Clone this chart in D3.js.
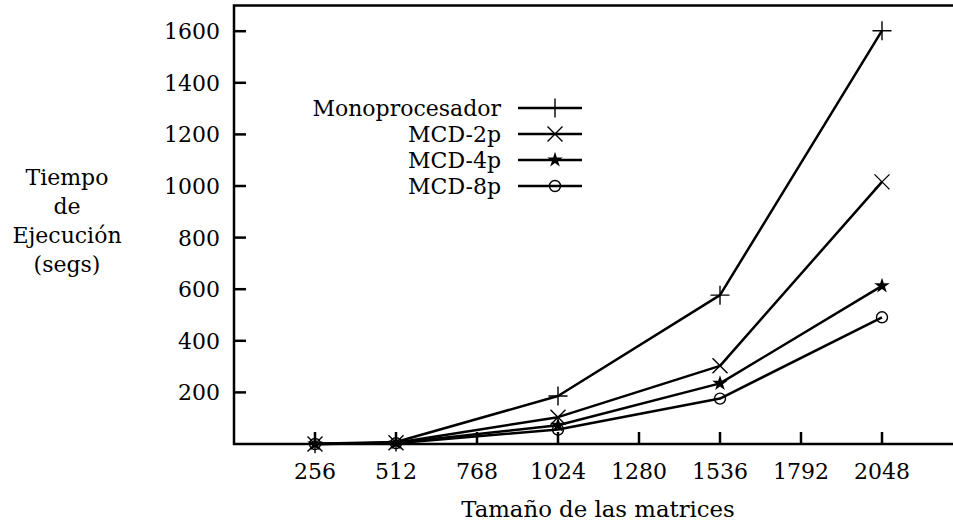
<!DOCTYPE html>
<html>
<head>
<meta charset="utf-8">
<script src="https://cdn.jsdelivr.net/npm/d3@7"></script>
<style>
  body { margin: 0; background: #fff; }
</style>
</head>
<body>
<svg width="953" height="525" style="font-family: 'DejaVu Serif', serif;"></svg>
<script>
// data
const sizes = [256, 512, 1024, 1536, 2048];
const mono = [1, 8, 186, 577, 1602];
const mcd2 = [0, 5, 104, 303, 1016];
const mcd4 = [0, 4, 73, 235, 613];
const mcd8 = [0, 3, 56, 176, 491];
const seriesNames = ['Monoprocesador', 'MCD-2p', 'MCD-4p', 'MCD-8p'];
const xTicks = [256, 512, 768, 1024, 1280, 1536, 1792, 2048];
const yTicks = [200, 400, 600, 800, 1000, 1200, 1400, 1600];

const svg = d3.select('svg');
const fontSize = 22;

const x = d3.scaleLinear().domain([0, 2304]).range([234, 963]);
const y = d3.scaleLinear().domain([0, 1700]).range([444, 5.4]);

const series = [mono, mcd2, mcd4, mcd8].map((vals, i) => ({
    name: seriesNames[i],
    points: sizes.map((s, j) => [s, vals[j]])
}));

// marker drawers
const markers = [
    // plus
    (g, cx, cy) => g.append('path')
        .attr('d', `M${cx - 9.5},${cy}H${cx + 9.5}M${cx},${cy - 9.5}V${cy + 9.5}`)
        .attr('stroke', '#000').attr('stroke-width', 1.4).attr('fill', 'none'),
    // cross
    (g, cx, cy) => g.append('path')
        .attr('d', `M${cx - 7.5},${cy - 7.5}L${cx + 7.5},${cy + 7.5}M${cx - 7.5},${cy + 7.5}L${cx + 7.5},${cy - 7.5}`)
        .attr('stroke', '#000').attr('stroke-width', 1.4).attr('fill', 'none'),
    // star
    (g, cx, cy) => g.append('path')
        .attr('d', d3.symbol().type(d3.symbolStar).size(75)())
        .attr('transform', `translate(${cx},${cy})`)
        .attr('fill', '#000'),
    // circle
    (g, cx, cy) => g.append('circle')
        .attr('cx', cx).attr('cy', cy).attr('r', 5.5)
        .attr('stroke', '#000').attr('stroke-width', 1.4).attr('fill', 'none')
];

// frame
svg.append('path')
    .attr('d', `M${x(2304)},${y(1700)}H${x(0)}V${y(0)}H${x(2304)}`)
    .attr('fill', 'none')
    .attr('stroke', '#000')
    .attr('stroke-width', 2.5);

// y ticks
svg.append('g').selectAll('line')
    .data(yTicks)
    .join('line')
        .attr('x1', x(0))
        .attr('x2', x(0) + 12)
        .attr('y1', d => y(d))
        .attr('y2', d => y(d))
        .attr('stroke', '#000')
        .attr('stroke-width', 2.5);

svg.append('g').selectAll('text')
    .data(yTicks)
    .join('text')
        .attr('x', 220)
        .attr('y', d => y(d))
        .attr('dy', '0.36em')
        .attr('text-anchor', 'end')
        .attr('font-size', fontSize)
        .text(d => d);

// x ticks
svg.append('g').selectAll('line')
    .data(xTicks)
    .join('line')
        .attr('x1', d => x(d))
        .attr('x2', d => x(d))
        .attr('y1', y(0))
        .attr('y2', y(0) - 12)
        .attr('stroke', '#000')
        .attr('stroke-width', 2.5);

svg.append('g').selectAll('text')
    .data(xTicks)
    .join('text')
        .attr('x', d => x(d))
        .attr('y', 479)
        .attr('text-anchor', 'middle')
        .attr('font-size', fontSize)
        .text(d => d);

// axis titles
svg.append('text')
    .attr('x', 598)
    .attr('y', 517)
    .attr('text-anchor', 'middle')
    .attr('font-size', 22.8)
    .text('Tamaño de las matrices');

svg.append('text')
    .attr('text-anchor', 'middle')
    .attr('font-size', fontSize)
    .selectAll('tspan')
    .data(['Tiempo', 'de', 'Ejecución', '(segs)'])
    .join('tspan')
        .attr('x', 67)
        .attr('y', (d, i) => 185 + i * 29)
        .text(d => d);

// series
const line = d3.line().x(d => x(d[0])).y(d => y(d[1]));

series.forEach((s, i) => {
    svg.append('path')
        .datum(s.points)
        .attr('d', line)
        .attr('fill', 'none')
        .attr('stroke', '#000')
        .attr('stroke-width', 2.5)
        .attr('stroke-linejoin', 'round');
    const mg = svg.append('g');
    s.points.forEach(p => markers[i](mg, x(p[0]), y(p[1])));
});

// legend
const legend = svg.append('g');
series.forEach((s, i) => {
    const ly = 108 + i * 26;
    legend.append('text')
        .attr('x', 501)
        .attr('y', ly)
        .attr('dy', '0.36em')
        .attr('text-anchor', 'end')
        .attr('font-size', fontSize)
        .text(s.name);
    legend.append('line')
        .attr('x1', 518)
        .attr('x2', 582)
        .attr('y1', ly)
        .attr('y2', ly)
        .attr('stroke', '#000')
        .attr('stroke-width', 2.5);
    markers[i](legend, 555, ly);
});
</script>
</body>
</html>
